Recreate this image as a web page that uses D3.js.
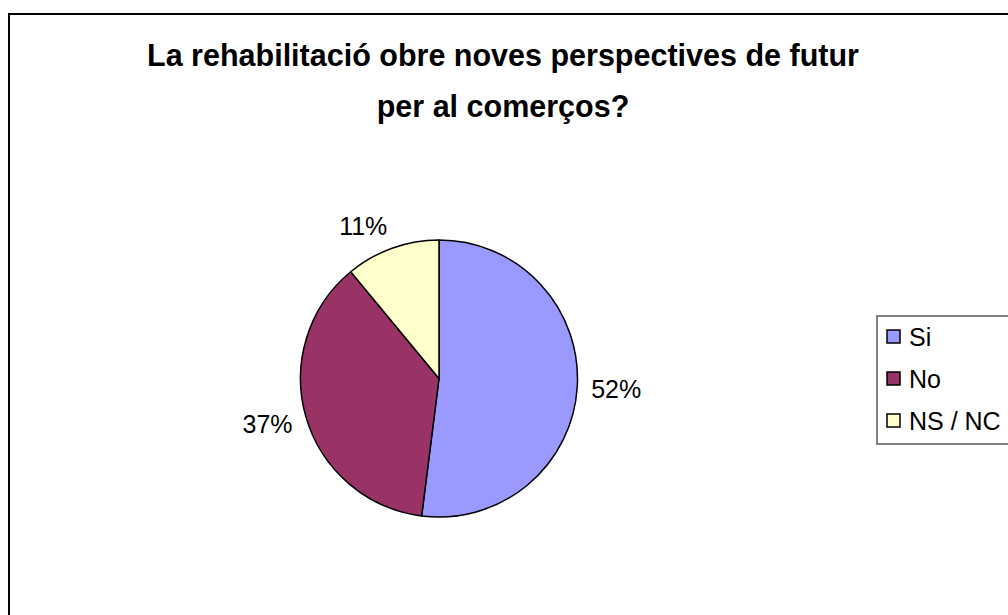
<!DOCTYPE html>
<html>
<head>
<meta charset="utf-8">
<script src="https://cdnjs.cloudflare.com/ajax/libs/d3/7.8.5/d3.min.js"></script>
<style>
  body { margin: 0; background: #fff; }
  svg text { font-family: "Liberation Sans", Arial, sans-serif; }
</style>
</head>
<body>
<div id="chart"></div>
<script>
// chart data
var categories = ["Si", "No", "NS / NC"];
var values = [52, 37, 11];
var colors = ["#9999FF", "#993366", "#FFFFCC"];
var titleLines = ["La rehabilitació obre noves perspectives de futur", "per al comerços?"];

var width = 1008, height = 615;
var cx = 439, cy = 378.5, radius = 138.5;

var svg = d3.select("#chart").append("svg")
    .attr("width", width)
    .attr("height", height);

svg.append("rect")
    .attr("width", width).attr("height", height)
    .style("fill", "#fff");

// chart frame (runs off right and bottom)
svg.append("rect")
    .attr("x", 9).attr("y", 14)
    .attr("width", 1020).attr("height", 620)
    .style("fill", "none")
    .style("stroke", "#000")
    .style("stroke-width", 2);

// title
svg.append("g").selectAll("text")
    .data(titleLines)
    .enter().append("text")
    .attr("x", 503)
    .attr("y", function(d, i) { return 66 + i * 51; })
    .attr("text-anchor", "middle")
    .style("font-size", "30.5px")
    .style("font-weight", "bold")
    .text(function(d) { return d; });

var pie = d3.pie().sort(null).value(function(d) { return d; });
var arcs = pie(values);
var arc = d3.arc().innerRadius(0).outerRadius(radius);

var g = svg.append("g").attr("transform", "translate(" + cx + "," + cy + ")");

g.selectAll("path")
    .data(arcs)
    .enter().append("path")
    .attr("d", arc)
    .style("fill", function(d, i) { return colors[i]; })
    .style("stroke", "#000")
    .style("stroke-width", 1.5)
    .style("stroke-linejoin", "round");

// percentage labels outside the pie
var total = d3.sum(values);
var labels = g.selectAll("text.lbl")
    .data(arcs)
    .enter().append("text")
    .attr("class", "lbl")
    .style("font-size", "25px")
    .attr("text-anchor", "middle")
    .text(function(d) { return Math.round(d.value / total * 100) + "%"; });

labels.each(function(d) {
    var a = (d.startAngle + d.endAngle) / 2;
    var r = radius + 14;
    var px = r * Math.sin(a), py = -r * Math.cos(a);
    var w = this.getComputedTextLength(), h = 20;
    var x = px + (Math.sin(a) >= 0 ? 1 : -1) * w / 2;
    var y = py - Math.cos(a) * h / 2;
    d3.select(this).attr("x", x).attr("y", y + 9);
});

// legend
var legend = svg.append("g");
legend.append("rect")
    .attr("x", 877).attr("y", 316)
    .attr("width", 160).attr("height", 128)
    .style("fill", "#fff")
    .style("stroke", "#808080")
    .style("stroke-width", 2);

var items = legend.selectAll("g.item")
    .data(categories)
    .enter().append("g")
    .attr("class", "item")
    .attr("transform", function(d, i) { return "translate(887," + (337 + i * 42) + ")"; });

items.append("rect")
    .attr("x", 0).attr("y", -7)
    .attr("width", 13).attr("height", 13)
    .style("fill", function(d, i) { return colors[i]; })
    .style("stroke", "#000")
    .style("stroke-width", 1.5);

items.append("text")
    .attr("x", 22).attr("y", 9)
    .style("font-size", "25px")
    .text(function(d) { return d; });
</script>
</body>
</html>
